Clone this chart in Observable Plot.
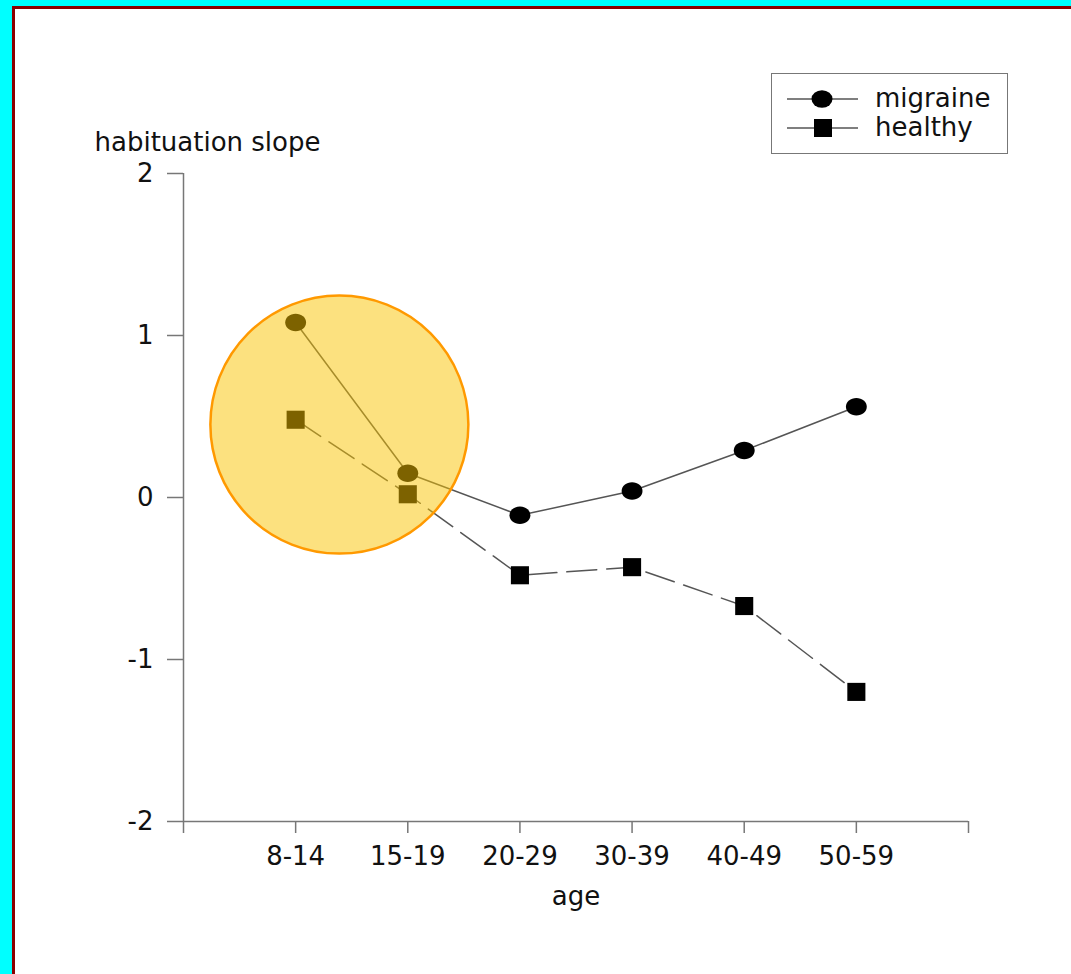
<!DOCTYPE html>
<html>
<head>
<meta charset="utf-8">
<script src="https://cdn.jsdelivr.net/npm/d3@7"></script>
<script src="https://cdn.jsdelivr.net/npm/@observablehq/plot@0.6"></script>
<style>
  html, body { margin: 0; padding: 0; }
  body { width: 1071px; height: 974px; background: #00FFFF; position: relative; overflow: hidden; font-family: "DejaVu Sans", sans-serif; }
  #panel { position: absolute; left: 12px; top: 6px; right: -10px; bottom: -10px; background: #fff; border-left: 3px solid #8B0000; border-top: 3px solid #8B0000; }
  #chart { position: absolute; left: 0; top: 0; }
  #legend { position: absolute; left: 771px; top: 73px; width: 235px; height: 79px; border: 1px solid #777; background: #fff; }
</style>
</head>
<body>
<div id="panel"></div>
<div id="chart"></div>
<div id="legend"></div>
<script>
// ---- data ----
const ageGroups = ["8-14", "15-19", "20-29", "30-39", "40-49", "50-59"];
const migraine = [1.08, 0.15, -0.11, 0.04, 0.29, 0.56];
const healthy = [0.48, 0.02, -0.48, -0.43, -0.67, -1.2];
const yTicks = [-2, -1, 0, 1, 2];
const seriesNames = ["migraine", "healthy"];
const yLabel = "habituation slope";
const xLabel = "age";
// highlighted region (annotation, in data units)
const highlight = [{x: 1.39, y: 0.45}];

const rows = (vals, s) => vals.map((v, i) => ({idx: i + 1, age: ageGroups[i], value: v, series: s}));
const mRows = rows(migraine, seriesNames[0]);
const hRows = rows(healthy, seriesNames[1]);
const xTickVals = d3.range(0, ageGroups.length + 2);

const k = 0.5523;
const ellipse = {
  draw(ctx, size) {
    const r = Math.sqrt(size / Math.PI);
    const rx = r * 1.1, ry = r * 0.92;
    ctx.moveTo(rx, 0);
    ctx.bezierCurveTo(rx, k * ry, k * rx, ry, 0, ry);
    ctx.bezierCurveTo(-k * rx, ry, -rx, k * ry, -rx, 0);
    ctx.bezierCurveTo(-rx, -k * ry, -k * rx, -ry, 0, -ry);
    ctx.bezierCurveTo(k * rx, -ry, rx, -k * ry, rx, 0);
    ctx.closePath();
  }
};

const axisColor = "#777";
const textColor = "#111";

const chart = Plot.plot({
  width: 1071,
  height: 974,
  marginLeft: 183,
  marginRight: 103,
  marginTop: 173,
  marginBottom: 153,
  x: {domain: [0, ageGroups.length + 1]},
  y: {domain: [-2, 2]},
  style: {background: "transparent", fontFamily: "DejaVu Sans, sans-serif", fontSize: "26px", color: textColor},
  marks: [
    Plot.ruleX([0], {y1: -2, y2: 2, stroke: axisColor, strokeWidth: 1.5}),
    Plot.ruleY([-2], {x1: 0, x2: ageGroups.length + 1, stroke: axisColor, strokeWidth: 1.5}),
    Plot.axisY({ticks: yTicks, tickSize: 16, tickPadding: 14, tickFormat: d => String(d), stroke: axisColor, strokeWidth: 1.5, fill: textColor, fontSize: 26, label: null}),
    Plot.axisX({ticks: xTickVals, tickSize: 12, tickPadding: 13, tickFormat: i => ageGroups[i - 1] || "", stroke: axisColor, strokeWidth: 1.5, fill: textColor, fontSize: 26, label: null}),
    Plot.text([yLabel], {frameAnchor: "top-left", textAnchor: "start", lineAnchor: "bottom", dx: -89, dy: -23, fill: textColor, fontSize: 26}),
    Plot.text([xLabel], {frameAnchor: "bottom", textAnchor: "middle", lineAnchor: "bottom", dy: 83, fill: textColor, fontSize: 26}),
    Plot.line(mRows, {x: "idx", y: "value", stroke: "#555", strokeWidth: 1.5}),
    Plot.line(hRows, {x: "idx", y: "value", stroke: "#555", strokeWidth: 1.5, strokeDasharray: "30,10"}),
    Plot.dot(mRows, {x: "idx", y: "value", r: 9.5, symbol: ellipse, fill: "#000", stroke: "none"}),
    Plot.dot(hRows, {x: "idx", y: "value", r: 10.2, symbol: "square", fill: "#000", stroke: "none"}),
    Plot.dot(highlight, {x: "x", y: "y", r: 129, fill: "#F9C400", fillOpacity: 0.5, stroke: "#FF9900", strokeWidth: 2.5})
  ]
});
document.getElementById("chart").appendChild(chart);

// ---- legend ----
const lg = d3.select("#legend").append("svg").attr("width", 235).attr("height", 79)
  .style("font-family", "DejaVu Sans, sans-serif");
const entries = [
  {name: seriesNames[0], type: "circle"},
  {name: seriesNames[1], type: "square"}
];
entries.forEach((e, i) => {
  const cy = 25 + i * 29;
  lg.append("line").attr("x1", 15).attr("x2", 86).attr("y1", cy).attr("y2", cy).attr("stroke", "#555").attr("stroke-width", 1.5);
  if (e.type === "circle") {
    lg.append("ellipse").attr("cx", 50).attr("cy", cy).attr("rx", 10.5).attr("ry", 8.7).attr("fill", "#000");
  } else {
    lg.append("rect").attr("x", 42).attr("y", cy - 9).attr("width", 18).attr("height", 18).attr("fill", "#000");
  }
  lg.append("text").attr("x", 103).attr("y", cy + 8).attr("font-size", 26).attr("fill", textColor).text(e.name);
});
</script>
</body>
</html>
